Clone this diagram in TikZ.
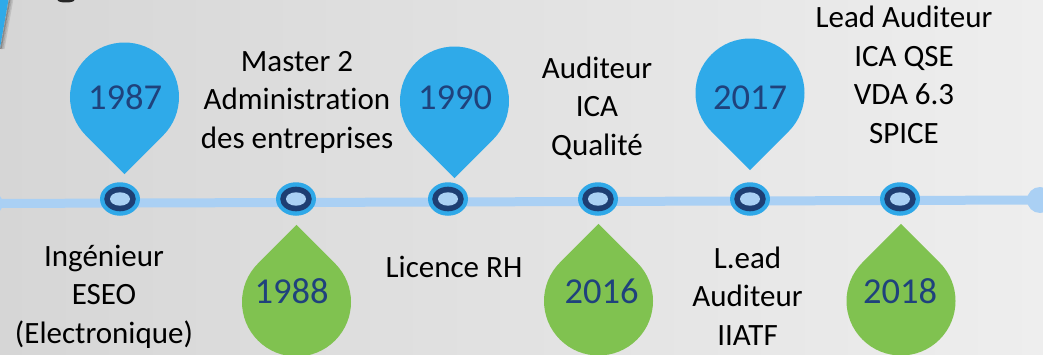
\documentclass[tikz,border=0pt]{standalone}
\usepackage{fontspec}
\setmainfont{Carlito}[Ligatures=NoCommon]
\usetikzlibrary{shapes.geometric}
\definecolor{bgL}{RGB}{214,214,214}
\definecolor{bgR}{RGB}{238,238,238}
\definecolor{pinblue}{RGB}{47,170,233}
\definecolor{pingreen}{RGB}{128,194,80}
\definecolor{yeartxt}{RGB}{31,66,124}
\definecolor{linec}{RGB}{170,208,244}
\definecolor{ringdark}{RGB}{30,62,115}
\definecolor{ringout}{RGB}{47,168,232}
\newcommand\bluepin[2]{\fill[pinblue] (#1,#2-77.07) -- (#1-38.54,#2-38.54) arc[start angle=225,end angle=-45,radius=54.5] -- cycle;}
\newcommand\greenpin[2]{\fill[pingreen] (#1,#2+77.07) -- (#1+38.54,#2+38.54) arc[start angle=45,end angle=-225,radius=54.5] -- cycle;}
\begin{document}
\begin{tikzpicture}[x=1pt,y=1pt,
  txtlbl/.style={font=\fontsize{31}{38.5}\selectfont, align=center, anchor=base, inner sep=0pt, text=black},
  yr/.style={font=\fontsize{36.5}{40}\selectfont, text=yeartxt, anchor=base, inner sep=0pt},
  mk/.style={ellipse, fill=ringout, minimum width=40, minimum height=33.5, inner sep=0pt},
  endc/.style={circle, fill=linec, minimum size=26, inner sep=0pt},
]
\useasboundingbox (0,0) rectangle (1043,354);
\shade[left color=bgL, right color=bgR] (0,0) rectangle (1043,354);
% top-left decoration
\fill[pinblue] (0,354) -- (8.5,354) -- (0,306) -- cycle;
\draw[black, opacity=0.35, line width=1.5] (9.5,354) -- (0.8,305);
\draw[black, opacity=0.2, line width=1.5] (11,354) -- (2.3,305);
\draw[black, opacity=0.1, line width=1.5] (12.5,354) -- (3.8,305);
\fill[black!85] (66,354) ellipse (8.5 and 2.5);
% timeline
\node[endc] (Lend) at (-10.5,150.5) {};
\node[endc] (Rend) at (1040,154) {};
\draw[linec, line width=9] (Lend.center) -- (Rend.center);
% markers
\foreach \n/\x in {m1/120,m2/296,m3/448,m4/598,m5/750,m6/900}{
  \node[mk] (\n) at (\x,155) {};
  \fill[ringdark] (\n.center) ellipse (15.8 and 12.3);
  \fill[linec] (\n.center) ellipse (10 and 6.7);
}
% pins
\bluepin{124.5}{257}
\bluepin{454.5}{253}
\bluepin{750}{261}
\greenpin{296.5}{52}
\greenpin{598.5}{53}
\greenpin{901}{53}
\node[yr] (y1987) at (125,244) {1987};
\node[yr] (y1990) at (455,244) {1990};
\node[yr] (y2017) at (750,244) {2017};
\node[yr] (y1988) at (291.5,51) {1988};
\node[yr] (y2016) at (601.7,51) {2016};
\node[yr] (y2018) at (900,51) {2018};
% labels (anchor base = baseline of last line)
\node[txtlbl] (t1) at (104,11) {Ingénieur\\ESEO\\(Electronique)};
\node[txtlbl] (t2) at (297,205.7) {Master 2\\Administration\\des entreprises};
\node[txtlbl] (t3) at (454,77) {Licence RH};
\node[txtlbl] (t4) at (597,199) {Auditeur\\ICA\\Qualité};
\node[txtlbl] (t5) at (747.5,9) {L.ead\\Auditeur\\IIATF};
\node[txtlbl] (t6) at (904,211) {Lead Auditeur\\ICA QSE\\VDA 6.3\\SPICE};
\end{tikzpicture}
\end{document}
